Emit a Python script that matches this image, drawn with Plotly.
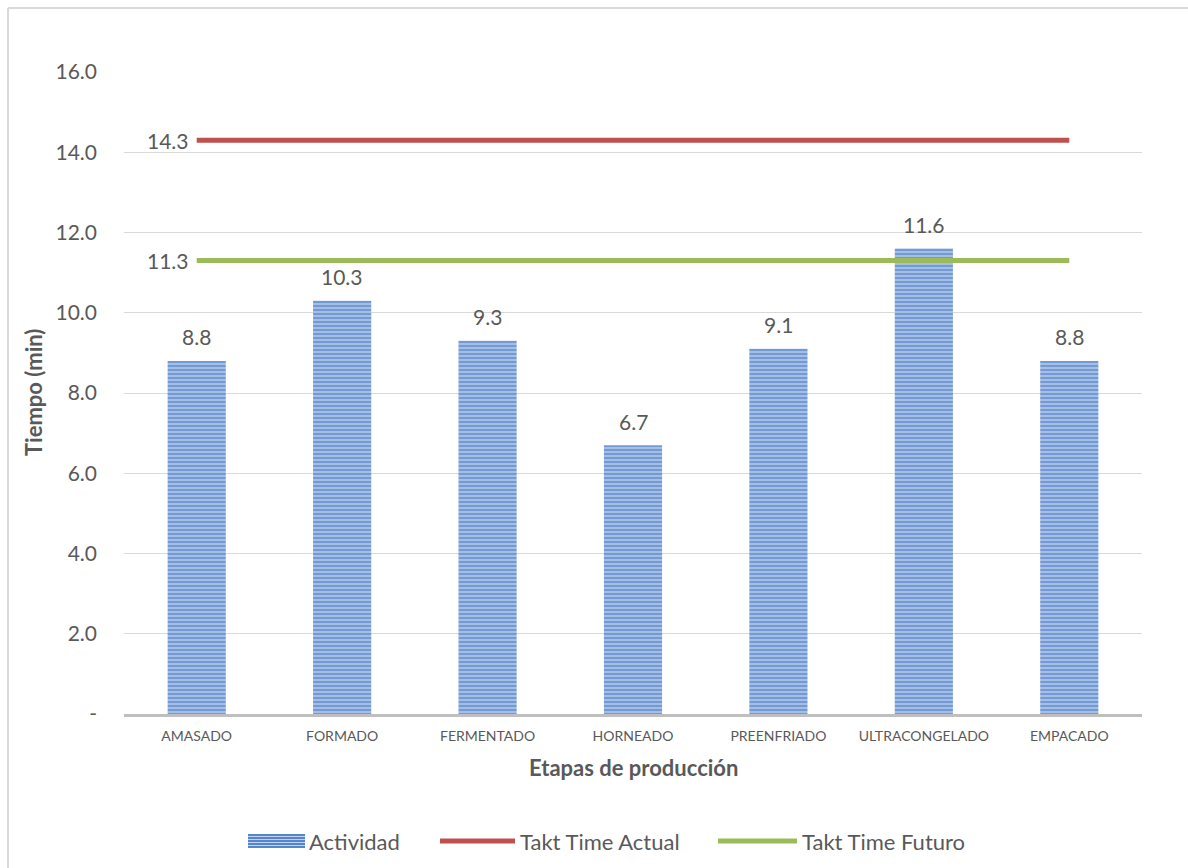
import plotly.graph_objects as go

# Production stages and measured activity times (minutes)
etapas = ["AMASADO", "FORMADO", "FERMENTADO", "HORNEADO",
          "PREENFRIADO", "ULTRACONGELADO", "EMPACADO"]
actividad = [8.8, 10.3, 9.3, 6.7, 9.1, 11.6, 8.8]

# Takt time references (minutes)
takt_actual = 14.3
takt_futuro = 11.3

# Y axis ticks
y_ticks = [0, 2, 4, 6, 8, 10, 12, 14, 16]
y_tick_text = ["-", "2.0", "4.0", "6.0", "8.0", "10.0", "12.0", "14.0", "16.0"]

FONT = "Lato, 'Open Sans', sans-serif"
TXT = "#595959"

# Plot area in pixels, used to place frame and legend in paper units
L, R, T, B = 124, 1142, 72, 714


def px(xp):
    return (xp - L) / (R - L)


def py(yp):
    return (B - yp) / (B - T)


BLUE_DARK = "#4272ba"
BLUE_LIGHT = "#a8c3e9"
RED = "#c0504d"
GREEN = "#9bbb59"

fig = go.Figure()

fig.add_trace(go.Bar(
    x=etapas, y=actividad, name="Actividad", width=0.4,
    marker=dict(
        color=BLUE_LIGHT,
        line=dict(width=0),
        pattern=dict(shape="-", fgcolor=BLUE_DARK, bgcolor=BLUE_LIGHT,
                     size=4, solidity=0.55),
    ),
    showlegend=False,
))

fig.add_trace(go.Scatter(
    x=etapas, y=[takt_actual] * len(etapas), name="Takt Time Actual",
    mode="lines", line=dict(color=RED, width=5), showlegend=False,
))
fig.add_trace(go.Scatter(
    x=etapas, y=[takt_futuro] * len(etapas), name="Takt Time Futuro",
    mode="lines", line=dict(color=GREEN, width=5), showlegend=False,
))

annotations = []
# Bar value labels
for e, v in zip(etapas, actividad):
    annotations.append(dict(x=e, y=v, text=f"{v:.1f}", showarrow=False,
                            yshift=24, font=dict(size=21, color=TXT, family=FONT)))
# Takt time labels at the left end of each line
for val in (takt_actual, takt_futuro):
    annotations.append(dict(x=etapas[0], y=val, text=f"{val:.1f}", showarrow=False,
                            xanchor="right", xshift=-6,
                            font=dict(size=21, color=TXT, family=FONT)))
# Axis titles
annotations.append(dict(xref="paper", yref="paper", x=px(633), y=py(768),
                        xanchor="center", yanchor="middle",
                        text="<b>Etapas de producción</b>",
                        showarrow=False, font=dict(size=22, color=TXT, family=FONT)))
annotations.append(dict(xref="paper", yref="paper", x=px(33), y=py(393),
                        xanchor="center", yanchor="middle",
                        text="<b>Tiempo (min)</b>", textangle=-90,
                        showarrow=False, font=dict(size=22, color=TXT, family=FONT)))

# Chart frame (top and left edges)
shapes = [
    dict(type="line", xref="paper", yref="paper",
         x0=px(8), x1=px(1188), y0=py(8), y1=py(8),
         line=dict(color="#d9d9d9", width=2)),
    dict(type="line", xref="paper", yref="paper",
         x0=px(8), x1=px(8), y0=py(8), y1=py(868),
         line=dict(color="#d9d9d9", width=2)),
]

# Legend row: striped swatch for the bars, thick strokes for the lines
LEG_Y = 841
shapes.append(dict(type="rect", xref="paper", yref="paper",
                   x0=px(248), x1=px(305), y0=py(848), y1=py(834),
                   fillcolor="#5585cc", line=dict(width=0)))
for sy in (836.5, 839.5, 842.5, 845.5):
    shapes.append(dict(type="line", xref="paper", yref="paper",
                       x0=px(248), x1=px(305), y0=py(sy), y1=py(sy),
                       line=dict(color="#c2d4ef", width=1)))
shapes.append(dict(type="line", xref="paper", yref="paper",
                   x0=px(440), x1=px(515), y0=py(LEG_Y), y1=py(LEG_Y),
                   line=dict(color=RED, width=5)))
shapes.append(dict(type="line", xref="paper", yref="paper",
                   x0=px(718), x1=px(797), y0=py(LEG_Y), y1=py(LEG_Y),
                   line=dict(color=GREEN, width=5)))
for lx, label in ((307, "Actividad"), (518, "Takt Time Actual"), (800, "Takt Time Futuro")):
    annotations.append(dict(xref="paper", yref="paper", x=px(lx), y=py(LEG_Y),
                            xanchor="left", yanchor="middle", text=label,
                            showarrow=False, font=dict(size=22, color=TXT, family=FONT)))

fig.update_layout(
    width=1188, height=868,
    margin=dict(l=L, r=1188 - R, t=T, b=868 - B, autoexpand=False),
    paper_bgcolor="white", plot_bgcolor="white",
    font=dict(family=FONT, color=TXT),
    bargap=0.6,
    annotations=annotations,
    shapes=shapes,
    showlegend=False,
)

fig.update_xaxes(
    showgrid=False, showline=True, linecolor="#bfbfbf", linewidth=3,
    ticks="", tickfont=dict(size=14, color=TXT, family=FONT),
    ticklabelstandoff=7, automargin=False,
)
fig.update_yaxes(
    range=[0, 16], tickvals=y_ticks, ticktext=y_tick_text,
    showgrid=True, gridcolor="#d9d9d9", gridwidth=1,
    zeroline=False, showline=False, ticks="",
    tickfont=dict(size=21, color=TXT, family=FONT),
    ticklabelstandoff=26, automargin=False,
)

fig.write_html("out.html")
